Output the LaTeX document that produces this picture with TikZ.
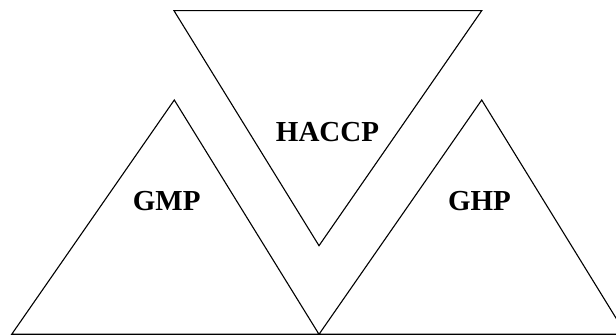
\documentclass[tikz,border=0pt]{standalone}
\usepackage{fontspec}
\setmainfont{Liberation Serif}
\usepackage{tikz}
\usetikzlibrary{positioning,calc}

\begin{document}
\begin{tikzpicture}[
  x=1pt, y=-1pt,
  tri/.style={draw=black, line width=1.1pt, line join=miter},
  lbl/.style={anchor=base, inner sep=0pt, font=\fontsize{29}{34}\selectfont\bfseries}
]
  \clip (0,0) rectangle (616,336);

  % corners
  \coordinate (gmpTop) at (174.3,100);
  \coordinate (gmpL)   at (11.7,334.3);
  \coordinate (mid)    at (319,334.3);
  \coordinate (ghpTop) at (481.7,100);
  \coordinate (ghpR)   at (626,334.3);
  \coordinate (hacL)   at (174,10.7);
  \coordinate (hacR)   at (481.7,10.7);
  \coordinate (hacBot) at (319,245.7);

  \draw[tri] (gmpL)--(gmpTop)--(mid)--cycle;
  \draw[tri] (mid)--(ghpTop)--(ghpR)--cycle;
  \draw[tri] (hacL)--(hacR)--(hacBot)--cycle;

  \node[lbl] (haccp) at (327.5,141.7) {HACCP};
  \node[lbl] (gmp)   at (166.7,210.7) {GMP};
  \node[lbl] (ghp)   at (479.5,210.7) {GHP};
\end{tikzpicture}
\end{document}
